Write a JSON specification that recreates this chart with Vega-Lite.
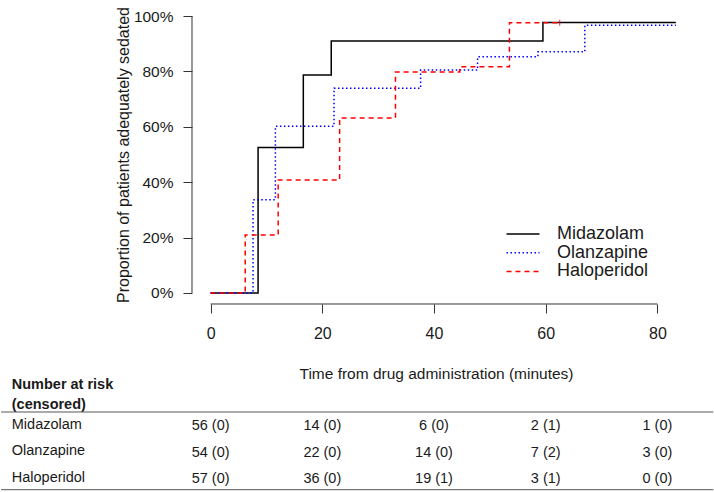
{
  "$schema": "https://vega.github.io/schema/vega-lite/v6.json",
  "padding": {"left": 0, "top": 5, "right": 2, "bottom": 1},
  "background": "white",
  "config": {
    "font": "Liberation Sans",
    "view": {"stroke": null},
    "axis": {"grid": false, "labelColor": "#1a1a1a", "titleColor": "#1a1a1a", "tickColor": "#333333", "labelFont": "Liberation Sans", "titleFont": "Liberation Sans", "titleFontWeight": "normal"},
    "legend": {"labelFont": "Liberation Sans"}
  },
  "datasets": {
    "km": [
      {"group": "Midazolam", "time": 0, "surv": 0},
      {"group": "Midazolam", "time": 8.5, "surv": 0.525},
      {"group": "Midazolam", "time": 16.6, "surv": 0.787},
      {"group": "Midazolam", "time": 21.6, "surv": 0.91},
      {"group": "Midazolam", "time": 59.5, "surv": 0.977},
      {"group": "Midazolam", "time": 83.3, "surv": 0.977},
      {"group": "Olanzapine", "time": 0, "surv": 0},
      {"group": "Olanzapine", "time": 7.6, "surv": 0.337},
      {"group": "Olanzapine", "time": 11.6, "surv": 0.602},
      {"group": "Olanzapine", "time": 22.1, "surv": 0.739},
      {"group": "Olanzapine", "time": 37.6, "surv": 0.805},
      {"group": "Olanzapine", "time": 47.8, "surv": 0.853},
      {"group": "Olanzapine", "time": 58.6, "surv": 0.871},
      {"group": "Olanzapine", "time": 67.0, "surv": 0.967},
      {"group": "Olanzapine", "time": 83.3, "surv": 0.967},
      {"group": "Haloperidol", "time": 0, "surv": 0},
      {"group": "Haloperidol", "time": 6.2, "surv": 0.209},
      {"group": "Haloperidol", "time": 12.1, "surv": 0.408},
      {"group": "Haloperidol", "time": 23.1, "surv": 0.632},
      {"group": "Haloperidol", "time": 33.1, "surv": 0.798},
      {"group": "Haloperidol", "time": 44.6, "surv": 0.817},
      {"group": "Haloperidol", "time": 53.5, "surv": 0.976},
      {"group": "Haloperidol", "time": 62.5, "surv": 0.976}
    ],
    "censor": [
      {"group": "Haloperidol", "time": 62.5, "surv": 0.976}
    ],
    "risk": [
      {"group": "Midazolam", "time": 0, "label": "56 (0)"},
      {"group": "Midazolam", "time": 20, "label": "14 (0)"},
      {"group": "Midazolam", "time": 40, "label": "6 (0)"},
      {"group": "Midazolam", "time": 60, "label": "2 (1)"},
      {"group": "Midazolam", "time": 80, "label": "1 (0)"},
      {"group": "Olanzapine", "time": 0, "label": "54 (0)"},
      {"group": "Olanzapine", "time": 20, "label": "22 (0)"},
      {"group": "Olanzapine", "time": 40, "label": "14 (0)"},
      {"group": "Olanzapine", "time": 60, "label": "7 (2)"},
      {"group": "Olanzapine", "time": 80, "label": "3 (0)"},
      {"group": "Haloperidol", "time": 0, "label": "57 (0)"},
      {"group": "Haloperidol", "time": 20, "label": "36 (0)"},
      {"group": "Haloperidol", "time": 40, "label": "19 (1)"},
      {"group": "Haloperidol", "time": 60, "label": "3 (1)"},
      {"group": "Haloperidol", "time": 80, "label": "0 (0)"}
    ]
  },
  "spacing": 108,
  "bounds": "flush",
  "vconcat": [
    {
      "width": 502.7,
      "height": 299,
      "layer": [
        {
          "data": {"name": "km"},
          "mark": {"type": "line", "interpolate": "step-after", "strokeWidth": 1.5},
          "encoding": {
            "x": {
              "field": "time", "type": "quantitative",
              "scale": {"domain": [-3.33, 86.67], "nice": false, "zero": false},
              "axis": {
                "values": [0, 20, 40, 60, 80], "domain": false, "tickSize": 9, "tickWidth": 1,
                "labelFontSize": 16, "labelPadding": 13, "labelFlush": false,
                "title": "Time from drug administration (minutes)", "titleFontSize": 15.5,
                "titlePadding": 25, "titleX": 244
              }
            },
            "y": {
              "field": "surv", "type": "quantitative",
              "scale": {"domain": [-0.04, 1.04], "nice": false, "zero": false},
              "axis": {
                "values": [0, 0.2, 0.4, 0.6, 0.8, 1], "format": ".0%", "domain": false, "tickSize": 9,
                "labelFontSize": 15.5, "labelPadding": 10, "labelFlush": false,
                "title": "Proportion of patients adequately sedated", "titleFontSize": 16, "titlePadding": 2
              }
            },
            "color": {
              "field": "group", "type": "nominal",
              "scale": {"domain": ["Midazolam", "Olanzapine", "Haloperidol"], "range": ["#000000", "#0000ff", "#ff0000"]},
              "legend": {
                "orient": "none", "legendX": 322, "legendY": 220, "title": null, "padding": 0,
                "symbolType": "M-3,0H3", "symbolSize": 121, "symbolStrokeWidth": 1.5,
                "labelFontSize": 18, "labelColor": "#1a1a1a", "labelOffset": 25, "rowPadding": 0.7
              }
            },
            "strokeDash": {
              "field": "group", "type": "nominal",
              "scale": {"domain": ["Midazolam", "Olanzapine", "Haloperidol"], "range": [[1, 0], [1.5, 2.5], [5, 4]]},
              "legend": {
                "orient": "none", "legendX": 322, "legendY": 220, "title": null, "padding": 0,
                "symbolType": "M-3,0H3", "symbolSize": 121, "symbolStrokeWidth": 1.5,
                "labelFontSize": 18, "labelColor": "#1a1a1a", "labelOffset": 25, "rowPadding": 0.7
              }
            }
          }
        },
        {
          "data": {"name": "censor"},
          "mark": {"type": "tick", "orient": "vertical", "color": "#ff0000", "size": 6, "thickness": 1.2},
          "encoding": {
            "x": {"field": "time", "type": "quantitative"},
            "y": {"field": "surv", "type": "quantitative"}
          }
        },
        {
          "data": {"values": [{}]},
          "mark": {"type": "rule", "color": "#333333", "strokeWidth": 1},
          "encoding": {"x": {"datum": 0}, "x2": {"datum": 80}, "y": {"datum": -0.04}}
        },
        {
          "data": {"values": [{}]},
          "mark": {"type": "rule", "color": "#333333", "strokeWidth": 1},
          "encoding": {"y": {"datum": 0}, "y2": {"datum": 1}, "x": {"datum": -3.33}}
        }
      ]
    },
    {
      "width": 502.7,
      "height": 79,
      "layer": [
        {
          "data": {"name": "risk"},
          "mark": {"type": "text", "fontSize": 14.5, "baseline": "middle", "align": "center", "color": "#1a1a1a"},
          "encoding": {
            "x": {
              "field": "time", "type": "quantitative",
              "scale": {"domain": [-3.33, 86.67], "nice": false, "zero": false},
              "axis": null
            },
            "y": {
              "field": "group", "type": "nominal", "bandPosition": 0.55,
              "scale": {"type": "band", "domain": ["Midazolam", "Olanzapine", "Haloperidol"], "paddingInner": 0, "paddingOuter": 0},
              "axis": {
                "bandPosition": 0.55, "ticks": false, "domain": false,
                "labelAlign": "left", "labelBaseline": "middle", "labelPadding": 180.7, "labelFontSize": 14.5,
                "title": ["Number at risk", "(censored)"], "titleAngle": 0, "titleAlign": "left", "titleBaseline": "middle",
                "titleX": -180.7, "titleY": -27, "titleFontWeight": "bold", "titleFontSize": 14.5, "titleLineHeight": 20
              }
            },
            "text": {"field": "label"}
          }
        },
        {
          "data": {"values": [{}]},
          "mark": {"type": "rule", "color": "#555555", "strokeWidth": 1},
          "encoding": {"x": {"datum": -37.5}, "x2": {"datum": 90}, "y": {"datum": "Midazolam", "bandPosition": 0}}
        },
        {
          "data": {"values": [{}]},
          "mark": {"type": "rule", "color": "#555555", "strokeWidth": 1},
          "encoding": {"x": {"datum": -37.5}, "x2": {"datum": 90}, "y": {"datum": "Haloperidol", "bandPosition": 0.95}}
        }
      ]
    }
  ]
}
